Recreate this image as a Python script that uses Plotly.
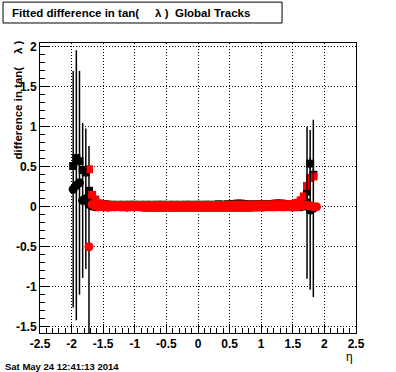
import plotly.graph_objects as go

# eta bin centres (0.05 wide bins)
eta = [-1.975, -1.925, -1.875, -1.825, -1.775, -1.725, -1.675, -1.625,
       -1.575, -1.525, -1.475, -1.425, -1.375, -1.325, -1.275, -1.225,
       -1.175, -1.125, -1.075, -1.025, -0.975, -0.925, -0.875, -0.825,
       -0.775, -0.725, -0.675, -0.625, -0.575, -0.525, -0.475, -0.425,
       -0.375, -0.325, -0.275, -0.225, -0.175, -0.125, -0.075, -0.025,
       0.025, 0.075, 0.125, 0.175, 0.225, 0.275, 0.325, 0.375,
       0.425, 0.475, 0.525, 0.575, 0.625, 0.675, 0.725, 0.775,
       0.825, 0.875, 0.925, 0.975, 1.025, 1.075, 1.125, 1.175,
       1.225, 1.275, 1.325, 1.375, 1.425, 1.475, 1.525, 1.575,
       1.625, 1.675, 1.725, 1.775, 1.825, 1.875]

black_sq = [0.51, 0.61, 0.57, 0.46, 0.43, 0.20, 0.09, 0.05,
            0.04, 0.03, 0.03, 0.025, 0.025, 0.02, 0.025, 0.02,
            0.025, 0.02, 0.025, 0.025, 0.02, 0.025, 0.02, 0.025,
            0.02, 0.025, 0.02, 0.025, 0.025, 0.02, 0.025, 0.02,
            0.025, 0.02, 0.025, 0.02, 0.025, 0.025, 0.02, 0.025,
            0.025, 0.02, 0.025, 0.025, 0.02, 0.025, 0.03, 0.025,
            0.025, 0.03, 0.03, 0.035, 0.04, 0.04, 0.035, 0.03,
            0.03, 0.025, 0.03, 0.03, 0.025, 0.03, 0.03, 0.035,
            0.04, 0.04, 0.04, 0.035, 0.03, 0.035, 0.035, 0.04,
            0.05, 0.10, 0.19, 0.54, 0.40, None]
black_sq_err = [0.05] * 5 + [0.03] * 67 + [0.04, 0.05, 0.06, 0.08, 0.08, None]

black_ci = [0.22, 0.27, 0.30, 0.08, 0.10, 0.03, 0.01, 0.0,
            0.0, 0.005, 0.0, -0.005, 0.0, 0.0, 0.005, 0.0,
            0.0, -0.005, 0.0, 0.0, 0.005, 0.0, -0.005, 0.0,
            -0.005, 0.0, -0.005, -0.005, 0.0, -0.005, 0.0, -0.005,
            0.0, -0.005, 0.0, 0.0, -0.005, 0.0, 0.0, -0.005,
            0.0, 0.0, -0.005, 0.0, 0.0, -0.005, 0.0, 0.0,
            0.0, 0.0, 0.005, 0.0, 0.0, 0.005, 0.0, 0.0,
            0.005, 0.0, 0.0, 0.005, 0.0, 0.0, 0.005, 0.0,
            0.0, 0.005, 0.0, 0.0, 0.005, 0.0, 0.0, 0.0,
            0.0, 0.01, 0.05, -0.04, -0.02, None]
black_ci_err = [1.48, 1.69, 1.40, 0.97, 0.88, 0.05, 0.04, 0.03] + [0.02] * 64 + \
               [0.03, 0.04, 0.95, 1.00, 1.11, None]

red_sq = [None, None, None, None, None, 0.47, 0.15, 0.09,
          0.04, 0.03, 0.025, 0.02, 0.02, 0.02, 0.02, 0.02,
          0.02, 0.02, 0.02, 0.02, 0.02, 0.02, 0.02, 0.02,
          0.02, 0.02, 0.02, 0.02, 0.02, 0.02, 0.02, 0.02,
          0.02, 0.02, 0.02, 0.02, 0.02, 0.02, 0.02, 0.02,
          0.02, 0.02, 0.02, 0.02, 0.02, 0.02, 0.02, 0.02,
          0.02, 0.02, 0.025, 0.025, 0.025, 0.025, 0.025, 0.025,
          0.025, 0.025, 0.025, 0.025, 0.025, 0.025, 0.025, 0.03,
          0.03, 0.03, 0.03, 0.03, 0.03, 0.03, 0.035, 0.05,
          0.08, 0.13, 0.26, 0.36, 0.38, None]

red_ci = [None, None, None, None, None, -0.50, 0.03, 0.01,
          0.0, 0.0, 0.0, 0.0, 0.0, 0.0, 0.0, 0.0,
          0.0, 0.0, 0.0, 0.0, 0.0, 0.0, 0.0, -0.01,
          -0.01, -0.01, -0.01, -0.01, -0.01, -0.01, -0.01, -0.01,
          -0.01, -0.01, -0.01, -0.01, -0.01, -0.01, -0.01, -0.01,
          -0.01, -0.01, -0.01, -0.01, -0.01, -0.01, -0.01, -0.01,
          -0.01, -0.01, -0.01, -0.01, -0.01, -0.01, -0.01, -0.01,
          -0.01, -0.005, -0.005, -0.005, -0.005, 0.0, 0.0, 0.0,
          0.0, 0.0, 0.0, 0.0, 0.0, 0.0, 0.0, 0.0,
          0.01, 0.02, 0.02, 0.01, 0.0, 0.0]
red_ci_err = [None] * 5 + [1.26] + [0.02] * 72

x_ticks = [-2.5, -2, -1.5, -1, -0.5, 0, 0.5, 1, 1.5, 2, 2.5]
x_ticktext = ["-2.5", "-2", "-1.5", "-1", "-0.5", "0", "0.5", "1", "1.5", "2", "2.5"]
y_ticks = [-1.5, -1, -0.5, 0, 0.5, 1, 1.5, 2]
y_ticktext = ["-1.5", "-1", "-0.5", "0", "0.5", "1", "1.5", "2"]

title_text = "Fitted difference in tan(     λ )  Global Tracks"
ytitle_text = "difference in tan(    λ )"
xtitle_text = "η"
date_text = "Sat May 24 12:41:13 2014"

FONT = "Liberation Sans"
bar_style = dict(type="data", color="black", thickness=1.5, width=0)

fig = go.Figure()
fig.add_trace(go.Scatter(x=eta, y=black_sq, mode="markers",
                         marker=dict(symbol="square", size=8, color="black"),
                         error_y=dict(array=black_sq_err, **bar_style)))
fig.add_trace(go.Scatter(x=eta, y=black_ci, mode="markers",
                         marker=dict(symbol="circle", size=9, color="black")))
fig.add_trace(go.Scatter(x=eta, y=red_ci, mode="markers",
                         marker=dict(size=0.1, color="rgba(0,0,0,0)"),
                         error_y=dict(array=red_ci_err, **bar_style)))
fig.add_trace(go.Scatter(x=eta, y=red_sq, mode="markers",
                         marker=dict(symbol="square", size=8, color="#ff0000")))
fig.add_trace(go.Scatter(x=eta, y=black_ci, mode="markers",
                         marker=dict(size=0.1, color="rgba(0,0,0,0)"),
                         error_y=dict(array=black_ci_err, **bar_style)))
fig.add_trace(go.Scatter(x=eta, y=red_ci, mode="markers",
                         marker=dict(symbol="circle", size=9, color="#ff0000")))

axis_common = dict(
    showline=True, linecolor="black", linewidth=1, mirror=True,
    showgrid=True, gridcolor="black", gridwidth=1, griddash="1px,2px",
    zeroline=False, ticks="inside", ticklen=9, tickwidth=1, tickcolor="black",
    tickfont=dict(family=FONT, size=12, color="black", weight="bold"),
    minor=dict(ticks="inside", dtick=0.1, ticklen=5, tickwidth=1,
               tickcolor="black", showgrid=False),
)

fig.update_layout(
    width=396, height=372,
    margin=dict(l=40, r=40, t=43, b=39),
    paper_bgcolor="white", plot_bgcolor="white",
    showlegend=False,
    xaxis=dict(range=[-2.5, 2.5], tickvals=x_ticks, ticktext=x_ticktext,
               **axis_common),
    yaxis=dict(range=[-1.58, 2.05], tickvals=y_ticks, ticktext=y_ticktext,
               **axis_common),
    shapes=[dict(type="rect", xref="paper", yref="paper",
                 x0=-0.117, x1=0.766, y0=1.069, y1=1.141,
                 line=dict(color="black", width=1), fillcolor="white")],
    annotations=[
        dict(text=title_text, xref="paper", yref="paper", x=-0.095, y=1.105,
             xanchor="left", yanchor="middle", showarrow=False,
             font=dict(family=FONT, size=11.5, color="black", weight="bold")),
        dict(text=ytitle_text, xref="paper", yref="paper", x=-0.07, y=1.017,
             xanchor="center", yanchor="top", textangle=-90, showarrow=False,
             font=dict(family=FONT, size=11.5, color="black", weight="bold")),
        dict(text=xtitle_text, xref="paper", yref="paper", x=0.981, y=-0.083,
             xanchor="center", yanchor="middle", showarrow=False,
             font=dict(family=FONT, size=12, color="black")),
        dict(text=date_text, xref="paper", yref="paper", x=-0.117, y=-0.114,
             xanchor="left", yanchor="middle", showarrow=False,
             font=dict(family=FONT, size=9.5, color="black", weight="bold")),
    ],
)

fig.write_html("out.html", config={"displayModeBar": False},
               post_script="document.body.style.margin='0px';")
